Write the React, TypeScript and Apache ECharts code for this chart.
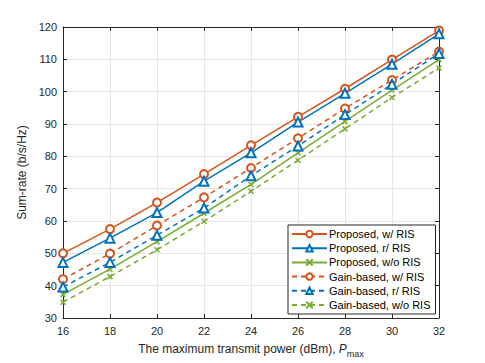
import React, { useEffect, useRef } from "react";
import * as echarts from "echarts";

const xValues = [16, 18, 20, 22, 24, 26, 28, 30, 32];
const yTicks = [30, 40, 50, 60, 70, 80, 90, 100, 110, 120];

const propWRis = [50.0, 57.5, 65.7, 74.5, 83.4, 92.2, 100.9, 109.9, 118.9];
const propRRis = [47.2, 54.7, 62.6, 72.3, 81.1, 90.6, 99.5, 108.5, 117.9];
const propWoRis = [37.3, 45.1, 53.6, 62.4, 71.3, 81.1, 90.8, 100.5, 109.9];
const gainWRis = [42.0, 49.9, 58.6, 67.3, 76.4, 85.6, 94.8, 103.6, 112.4];
const gainRRis = [39.6, 47.2, 55.6, 64.0, 74.0, 83.2, 92.9, 102.3, 111.8];
const gainWoRis = [34.9, 42.8, 51.1, 59.9, 69.2, 78.8, 88.5, 98.2, 107.3];

const names = [
  "Proposed, w/ RIS",
  "Proposed, r/ RIS",
  "Proposed, w/o RIS",
  "Gain-based, w/ RIS",
  "Gain-based, r/ RIS",
  "Gain-based, w/o RIS",
];

const ORANGE = "#D95319";
const BLUE = "#0072BD";
const GREEN = "#77AC30";
const XMARK = "path://M0,0L10,10M10,0L0,10";
const FONT = "Liberation Sans";

export default function App() {
  const ref = useRef<HTMLDivElement>(null);
  useEffect(() => {
    if (!ref.current) return;
    const chart = echarts.init(ref.current, undefined, { renderer: "svg" });
    const mk = (
      name: string,
      data: number[],
      color: string,
      dashed: boolean,
      symbol: string,
      size: number
    ) => ({
      name,
      type: "line",
      data: xValues.map((x, i) => [x, data[i]]),
      symbol,
      symbolSize: size,
      showAllSymbol: true,
      lineStyle: { color, width: 1.5, type: dashed ? [5, 4] : "solid" },
      itemStyle: {
        color,
        borderColor: color,
        borderWidth: 1.5,
      },
      emphasis: { disabled: true },
      z: 3,
    });
    const axisCommon = {
      axisLine: { show: true, lineStyle: { color: "#262626", width: 1 } },
      axisTick: { show: true, inside: true, length: 4, lineStyle: { color: "#262626" } },
    };
    chart.setOption({
      animation: false,
      grid: { left: 63, right: 46, top: 27, bottom: 42 },
      textStyle: { fontFamily: FONT },
      xAxis: [
        {
          ...axisCommon,
          type: "value",
          min: 16,
          max: 32,
          interval: 2,
          axisLabel: { color: "#262626", fontSize: 11, fontFamily: FONT, margin: 7 },
          splitLine: { show: true, lineStyle: { color: "#e6e6e6", width: 1 } },
          name: "The maximum transmit power (dBm), {i|P}{s|max}",
          nameLocation: "middle",
          nameGap: 21,
          nameTextStyle: {
            color: "#262626",
            fontSize: 12,
            fontFamily: FONT,
            rich: {
              i: { fontStyle: "italic", fontSize: 12, fontFamily: FONT, color: "#262626" },
              s: { fontSize: 9, fontFamily: FONT, color: "#262626", padding: [10, 0, 0, 0] },
            },
          },
        },
        {
          ...axisCommon,
          type: "value",
          position: "top",
          min: 16,
          max: 32,
          interval: 2,
          axisLabel: { show: false },
          splitLine: { show: false },
        },
      ],
      yAxis: [
        {
          ...axisCommon,
          type: "value",
          min: yTicks[0],
          max: yTicks[yTicks.length - 1],
          interval: 10,
          axisLabel: { color: "#262626", fontSize: 11, fontFamily: FONT, margin: 6 },
          splitLine: { show: true, lineStyle: { color: "#e6e6e6", width: 1 } },
          name: "Sum-rate (b/s/Hz)",
          nameLocation: "middle",
          nameGap: 18,
          nameTextStyle: { color: "#262626", fontSize: 12, fontFamily: FONT },
        },
        {
          ...axisCommon,
          type: "value",
          position: "right",
          min: yTicks[0],
          max: yTicks[yTicks.length - 1],
          interval: 10,
          axisLabel: { show: false },
          splitLine: { show: false },
        },
      ],
      legend: {
        orient: "vertical",
        left: 288,
        top: 225,
        itemWidth: 35,
        itemHeight: 8,
        itemGap: 2.2,
        padding: [3, 5, 3, 3],
        backgroundColor: "#fff",
        borderColor: "#262626",
        borderWidth: 1,
        borderRadius: 0,
        textStyle: { color: "#000", fontSize: 11, fontFamily: FONT, lineHeight: 12, padding: [0, 0, 0, -3] },
        data: names,
        selectedMode: false,
      },
      series: [
        mk(names[0], propWRis, ORANGE, false, "emptyCircle", 8),
        mk(names[1], propRRis, BLUE, false, "emptyTriangle", 9),
        mk(names[2], propWoRis, GREEN, false, XMARK, 5),
        mk(names[3], gainWRis, ORANGE, true, "emptyCircle", 8),
        mk(names[4], gainRRis, BLUE, true, "emptyTriangle", 9),
        mk(names[5], gainWoRis, GREEN, true, XMARK, 5),
      ],
    });
    return () => chart.dispose();
  }, []);
  return <div ref={ref} style={{ width: 485, height: 363, marginLeft: -8, marginTop: -8 }} />;
}
